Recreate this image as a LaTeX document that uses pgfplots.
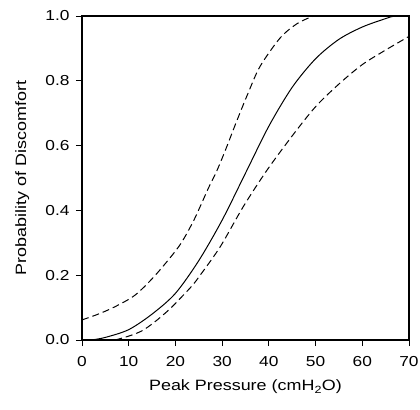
\documentclass[border=0pt]{standalone}
\usepackage{fontspec}
\setmainfont{Liberation Sans}[FakeStretch=1.2]
\usepackage{pgfplots}
\pgfplotsset{compat=1.18}
\begin{document}
\begin{tikzpicture}
\begin{axis}[
  scale only axis, width=327bp, height=324bp,
  xmin=0, xmax=70, ymin=0, ymax=1,
  xtick={0,10,...,70}, ytick={0,0.2,...,1.0},
  yticklabel style={/pgf/number format/fixed, /pgf/number format/fixed zerofill, /pgf/number format/precision=1, xshift=-3bp},
  /pgf/number format/assume math mode=true,
  tick align=outside, tick pos=left,
  major tick length=6bp,
  tick style={black, line width=0.9pt},
  axis line style={line width=1.1pt},
  ticklabel style={font=\fontsize{14.5}{16}\selectfont},
  xticklabel style={yshift=-7bp},
  label style={font=\fontsize{15}{17}\selectfont},
  xlabel={Peak Pressure (cmH\textsubscript{2}O)},
  ylabel={Probability of Discomfort},
  xlabel style={at={(axis description cs:0.5,-0.145)}, anchor=center},
  ylabel style={at={(axis description cs:-0.183,0.5)}, anchor=center},
]
\coordinate (o) at (rel axis cs:0,0);
\addplot[black, line width=1pt, smooth] coordinates {
(2,0.0)(5,0.008)(10,0.032)(15,0.08)(20,0.144)(25,0.245)(30,0.37)(35,0.515)(40,0.66)(45,0.78)(50,0.868)(55,0.928)(60,0.966)(65,0.992)(67,1.0)(70,1.0)};
\addplot[black, line width=1pt, dash pattern=on 7bp off 4bp, smooth] coordinates {
(0,0.062)(3.5,0.08)(7.1,0.103)(11.4,0.139)(15.7,0.2)(20.7,0.288)(23.6,0.36)(25.3,0.412)(27.1,0.47)(28.8,0.52)(30.7,0.586)(33.1,0.675)(35.5,0.76)(38.1,0.844)(42.4,0.932)(46,0.976)(49.2,0.998)(50,1.0)};
\addplot[black, line width=1pt, dash pattern=on 7bp off 4bp, smooth] coordinates {
(7.1,0.0)(10,0.012)(12.8,0.028)(15.5,0.055)(18.6,0.093)(21,0.128)(23.6,0.168)(25.3,0.20)(29.6,0.288)(34.5,0.411)(39.5,0.522)(45,0.63)(50,0.72)(55,0.79)(60,0.85)(65,0.895)(70,0.937)};
\end{axis}
\pgfresetboundingbox
\useasboundingbox ([shift={(-82bp,-70bp)}]o) rectangle ++(420bp,410bp);
\end{tikzpicture}
\end{document}
